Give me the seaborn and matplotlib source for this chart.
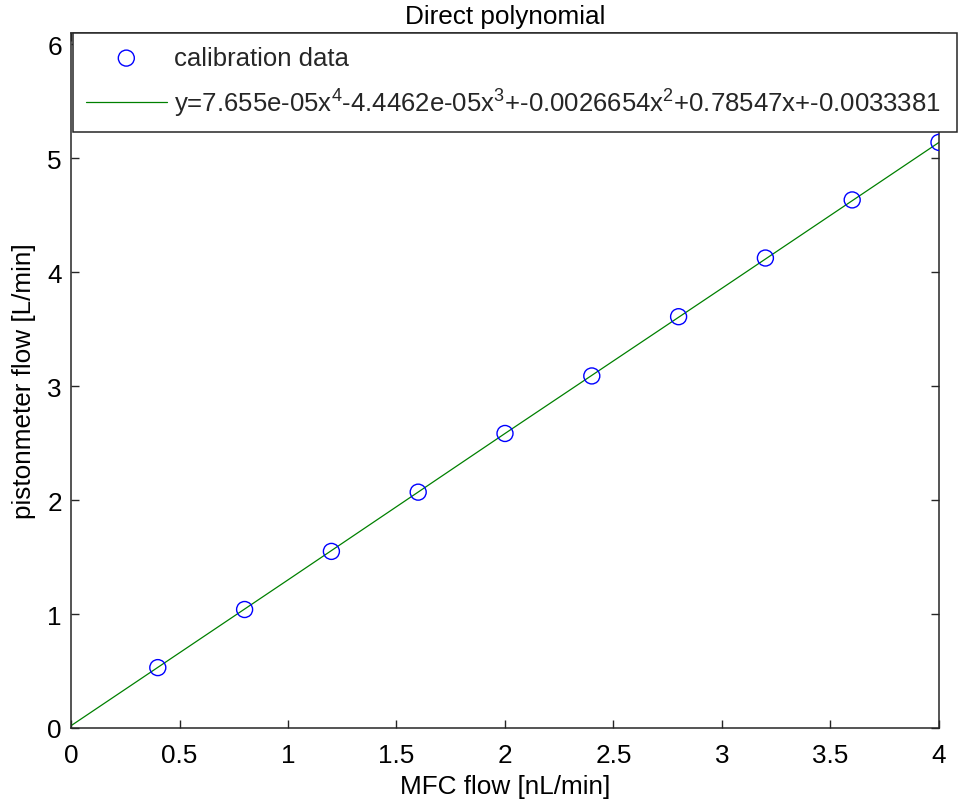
import matplotlib
matplotlib.use("Agg")
import matplotlib.pyplot as plt
import seaborn as sns
import pandas as pd

# Data
mfc_flow = [0.4, 0.8, 1.2, 1.6, 2.0, 2.4, 2.8, 3.2, 3.6, 4.0]
piston_flow = [0.53, 1.04, 1.55, 2.07, 2.585, 3.09, 3.61, 4.125, 4.635, 5.14]
fit_x = [0.0, 1.0, 2.0, 3.0, 4.0]
fit_y = [0.02, 1.30, 2.585, 3.86, 5.14]
x_ticks = [0, 0.5, 1, 1.5, 2, 2.5, 3, 3.5, 4]
x_tick_labels = ["0", "0.5", "1", "1.5", "2", "2.5", "3", "3.5", "4"]
y_ticks = [0, 1, 2, 3, 4, 5, 6]
y_tick_labels = ["0", "1", "2", "3", "4", "5", "6"]
title = "Direct polynomial"
xlabel = "MFC flow [nL/min]"
ylabel = "pistonmeter flow [L/min]"
label_data = "calibration data"
label_fit = (r"y=7.655e-05x$^{\mathregular{4}}$-4.4462e-05x$^{\mathregular{3}}$"
             r"+-0.0026654x$^{\mathregular{2}}$+0.78547x+-0.0033381")

sns.set_theme(style="white")
plt.rcParams["font.family"] = ["Liberation Sans", "DejaVu Sans"]
plt.rcParams["mathtext.fontset"] = "custom"
plt.rcParams["mathtext.rm"] = "Liberation Sans"
plt.rcParams["mathtext.it"] = "Liberation Sans"

FS = 18.8
LFS = 18.5

df_pts = pd.DataFrame({"x": mfc_flow, "y": piston_flow})
df_fit = pd.DataFrame({"x": fit_x, "y": fit_y})

fig = plt.figure(figsize=(9.58, 8.03), dpi=100)
ax = fig.add_axes([71 / 958, 1 - 729 / 803, (939 - 71) / 958, (729 - 34) / 803])

sns.scatterplot(data=df_pts, x="x", y="y", ax=ax, marker="o", s=16 ** 2 * 0.72 ** 2,
                facecolor="none", edgecolor="#0000ff", linewidth=1.0,
                label=label_data, zorder=3)
sns.lineplot(data=df_fit, x="x", y="y", ax=ax, color="#008000", linewidth=0.9,
             label=label_fit, zorder=2)

ax.set_xlim(0, 4)
ax.set_ylim(0, 6.1)
ax.set_xticks(x_ticks)
ax.set_xticklabels(x_tick_labels)
ax.set_yticks(y_ticks)
ax.set_yticklabels(y_tick_labels)
ax.tick_params(direction="in", length=6, width=1.0, color="#262626",
               labelsize=FS, top=True, right=True, bottom=True, left=True,
               labelcolor="black")
ax.tick_params(axis="x", pad=11)
ax.tick_params(axis="y", pad=6.5)
for sp in ax.spines.values():
    sp.set_visible(True)
    sp.set_color("#262626")
    sp.set_linewidth(1.1)

ax.set_title(title, fontsize=FS, pad=7, color="black")
ax.set_xlabel(xlabel, fontsize=FS, labelpad=5, color="black")
ax.set_ylabel(ylabel, fontsize=FS, labelpad=8, color="black")

x0 = 73 / 958
x1 = 957 / 958
ytop = 1 - 34 / 803
ybot = 1 - 127 / 803
leg = ax.legend(loc="upper left", bbox_to_anchor=(x0, ybot, x1 - x0, ytop - ybot),
                bbox_transform=fig.transFigure, mode="expand", borderaxespad=0,
                fontsize=LFS, frameon=True, fancybox=False, framealpha=1,
                edgecolor="#262626", handlelength=3.15, handletextpad=0.3,
                borderpad=0.5, labelspacing=0.65)
leg.get_frame().set_linewidth(1.1)
leg.set_zorder(5)

fig.savefig("out.png", dpi=100, facecolor="white")
